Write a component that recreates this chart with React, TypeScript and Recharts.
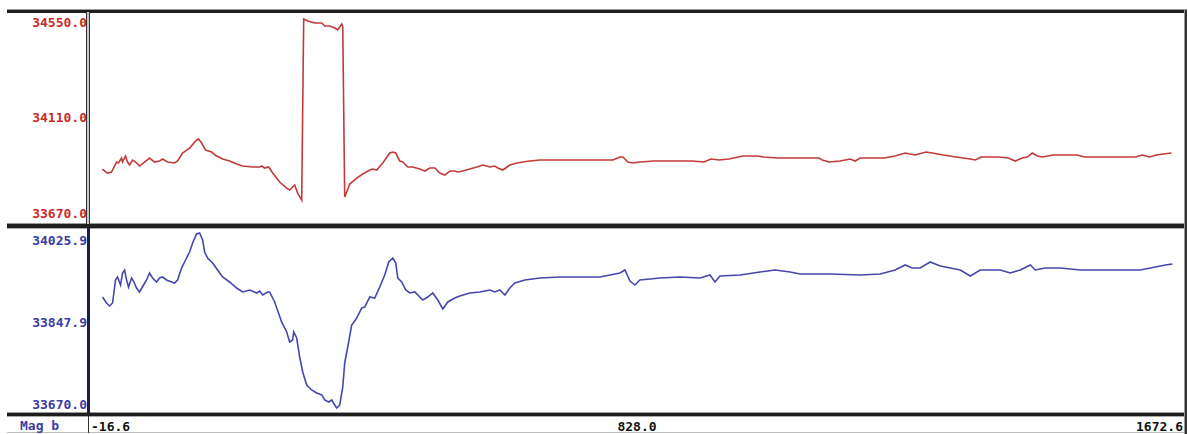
import { Line, LineChart, XAxis, YAxis } from 'recharts'

// x axis (shared by both panels)
const xTicks = [-16.6, 828.0, 1672.6]

// upper panel: Mag
const magTicks = [33670.0, 34110.0, 34550.0]
const magPos = [
  3.8, 11.9, 18.1, 25.8, 28.9, 33.5, 35.1, 39.7, 42.8, 45.9,
  50.5, 55.1, 61.3, 69.0, 76.7, 84.4, 92.1, 96.8, 104.5, 115.3,
  119.9, 127.6, 138.4, 149.2, 152.3, 156.9, 163.1, 172.3, 180.0, 189.3,
  200.1, 210.9, 220.2, 235.6, 246.4, 249.5, 254.1, 260.3, 266.5, 277.3,
  288.1, 292.7, 297.3, 300.4, 305.0, 311.2, 314.3, 320.5, 331.3, 342.1,
  346.7, 354.4, 362.2, 366.8, 372.9, 374.5, 377.5, 385.3, 396.1, 405.3,
  416.1, 420.8, 426.9, 436.2, 447.0, 451.6, 456.2, 462.4, 467.0, 474.7,
  482.4, 493.2, 500.9, 508.6, 516.4, 524.1, 531.8, 539.5, 547.2, 551.8,
  559.5, 570.3, 581.1, 590.4, 601.2, 608.9, 613.5, 621.2, 632.0, 642.8,
  652.1, 662.9, 678.3, 790.9, 801.7, 806.3, 814.0, 821.7, 832.5, 854.1,
  912.7, 931.2, 942.0, 954.3, 969.8, 991.4, 1013.0, 1023.8, 1045.4, 1108.6,
  1113.3, 1124.1, 1141.0, 1156.5, 1164.2, 1171.9, 1208.9, 1225.9, 1241.3, 1256.7,
  1273.7, 1283.0, 1299.9, 1320.0, 1341.6, 1349.3, 1358.6, 1367.8, 1384.8, 1400.2,
  1411.0, 1421.8, 1429.5, 1437.2, 1445.0, 1452.7, 1469.6, 1506.7, 1517.5, 1596.1,
  1606.9, 1617.7, 1628.5, 1639.3, 1651.7,
]
const magVal = [
  33872.8, 33854.3, 33858.9, 33905.0, 33900.4, 33923.4, 33905.0, 33932.7, 33905.0, 33891.2,
  33914.2, 33905.0, 33886.6, 33905.0, 33923.4, 33905.0, 33909.6, 33918.8, 33905.0, 33900.4,
  33909.6, 33946.5, 33969.5, 34006.4, 34011.0, 33992.6, 33960.3, 33951.1, 33932.7, 33918.8,
  33909.6, 33895.8, 33886.6, 33882.0, 33882.0, 33886.6, 33877.4, 33882.0, 33854.3, 33812.9,
  33785.2, 33776.0, 33789.8, 33799.0, 33762.2, 33730.0, 34563.8, 34554.6, 34545.4, 34545.4,
  34531.6, 34531.6, 34522.4, 34513.1, 34540.8, 34527.0, 33743.8, 33803.7, 33831.3, 33849.7,
  33868.2, 33872.8, 33868.2, 33900.4, 33946.5, 33951.1, 33946.5, 33909.6, 33905.0, 33882.0,
  33882.0, 33872.8, 33863.5, 33877.4, 33877.4, 33854.3, 33845.1, 33863.5, 33863.5, 33858.9,
  33863.5, 33872.8, 33882.0, 33891.2, 33882.0, 33886.6, 33877.4, 33868.2, 33891.2, 33900.4,
  33905.0, 33909.6, 33914.2, 33914.2, 33928.1, 33928.1, 33905.0, 33900.4, 33905.0, 33909.6,
  33909.6, 33905.0, 33918.8, 33914.2, 33918.8, 33932.7, 33932.7, 33928.1, 33923.4, 33923.4,
  33914.2, 33905.0, 33909.6, 33918.8, 33909.6, 33923.4, 33923.4, 33932.7, 33946.5, 33937.3,
  33951.1, 33946.5, 33937.3, 33928.1, 33918.8, 33914.2, 33928.1, 33928.1, 33928.1, 33923.4,
  33909.6, 33923.4, 33928.1, 33946.5, 33932.7, 33928.1, 33937.3, 33937.3, 33928.1, 33928.1,
  33937.3, 33928.1, 33937.3, 33941.9, 33946.5,
]

// lower panel: Mag b
const magBTicks = [33670.0, 33847.9, 34025.9]
const magBPos = [
  4.2, 10.4, 15.0, 19.7, 24.3, 27.4, 32.0, 35.1, 38.2, 41.3,
  44.3, 49.0, 52.0, 56.7, 61.3, 67.5, 72.1, 76.7, 81.3, 87.5,
  92.1, 96.8, 102.9, 110.7, 115.3, 119.9, 126.1, 130.7, 138.4, 143.1,
  149.2, 153.9, 158.5, 161.6, 166.2, 173.9, 181.6, 189.3, 200.1, 210.9,
  220.2, 231.0, 241.8, 246.4, 251.0, 258.8, 261.8, 269.5, 280.3, 288.1,
  292.7, 297.3, 298.9, 303.5, 308.1, 312.8, 318.9, 326.6, 334.3, 342.1,
  346.7, 352.9, 357.5, 362.2, 365.2, 369.9, 374.5, 377.5, 382.2, 388.3,
  396.1, 403.8, 408.4, 416.1, 423.8, 431.5, 439.2, 445.4, 451.6, 456.2,
  459.3, 465.4, 471.6, 477.8, 485.5, 497.8, 505.5, 513.2, 521.0, 528.7,
  536.4, 547.2, 554.9, 570.3, 585.8, 601.2, 608.9, 616.6, 624.3, 632.0,
  639.7, 655.2, 678.3, 709.2, 770.9, 801.7, 809.4, 817.1, 824.8, 832.5,
  863.4, 894.2, 925.1, 940.5, 948.2, 955.9, 986.8, 1017.6, 1040.8, 1063.9,
  1079.3, 1125.6, 1171.9, 1202.8, 1225.9, 1241.3, 1252.1, 1264.4, 1279.9, 1295.3,
  1326.2, 1341.6, 1357.0, 1387.9, 1403.3, 1418.7, 1434.2, 1441.9, 1457.3, 1480.5,
  1511.3, 1573.0, 1603.9, 1619.3, 1642.4, 1653.2,
]
const magBVal = [
  33902.2, 33889.2, 33882.7, 33889.2, 33939.1, 33945.6, 33928.2, 33954.3, 33960.8, 33939.1,
  33923.9, 33943.4, 33936.9, 33921.7, 33913.1, 33928.2, 33939.1, 33954.3, 33943.4, 33934.8,
  33943.4, 33945.6, 33939.1, 33934.8, 33932.6, 33939.1, 33965.1, 33978.2, 33999.9, 34019.4,
  34038.9, 34041.1, 34025.9, 33999.9, 33986.8, 33976.0, 33960.8, 33945.6, 33934.8, 33921.7,
  33913.1, 33917.4, 33910.9, 33915.2, 33906.5, 33913.1, 33913.1, 33891.4, 33848.0, 33826.3,
  33804.6, 33808.9, 33826.3, 33813.2, 33772.0, 33739.5, 33711.3, 33700.4, 33693.9, 33689.6,
  33678.7, 33674.4, 33678.7, 33667.9, 33661.4, 33667.9, 33706.9, 33759.0, 33793.7, 33841.5,
  33856.6, 33878.3, 33880.5, 33902.2, 33900.0, 33923.9, 33949.9, 33978.2, 33986.8, 33976.0,
  33943.4, 33934.8, 33917.4, 33910.9, 33913.1, 33895.7, 33902.2, 33910.9, 33895.7, 33876.2,
  33891.4, 33900.0, 33904.4, 33910.9, 33913.1, 33917.4, 33913.1, 33917.4, 33906.5, 33921.7,
  33932.6, 33939.1, 33943.4, 33945.6, 33945.6, 33954.3, 33960.8, 33936.9, 33928.2, 33939.1,
  33943.4, 33945.6, 33943.4, 33949.9, 33934.8, 33947.8, 33949.9, 33956.5, 33960.8, 33956.5,
  33952.1, 33952.1, 33949.9, 33952.1, 33960.8, 33971.7, 33965.1, 33965.1, 33978.2, 33969.5,
  33960.8, 33947.8, 33960.8, 33960.8, 33954.3, 33960.8, 33971.7, 33960.8, 33965.1, 33965.1,
  33960.8, 33960.8, 33960.8, 33965.1, 33971.7, 33973.8,
]

const magData = magPos.map((x, i) => ({ x, v: magVal[i] }))
const magBData = magBPos.map((x, i) => ({ x, v: magBVal[i] }))

const FONT = '"DejaVu Sans Mono", monospace'
const RED = '#c23a3a'
const BLUE = '#4646ae'

function valueTick(color: string) {
  return (p: any) => (
    <text
      x={87}
      y={p.y}
      dy="0.36em"
      textAnchor="end"
      fill={color}
      fontFamily={FONT}
      fontWeight="bold"
      fontSize={13}
    >
      {Number(p.payload.value).toFixed(1)}
    </text>
  )
}

function XTick(p: any) {
  const i = p.index
  const anchor = i === 0 ? 'start' : i === xTicks.length - 1 ? 'end' : 'middle'
  const dx = i === 0 ? 2 : i === xTicks.length - 1 ? -2 : 0
  return (
    <text
      x={p.x + dx}
      y={200}
      dy="0.36em"
      textAnchor={anchor}
      fill="#111"
      fontFamily={FONT}
      fontWeight="bold"
      fontSize={13}
    >
      {Number(p.payload.value).toFixed(1)}
    </text>
  )
}

const box = (style: any) => <div style={{ position: 'absolute', ...style }} />

export default function App() {
  return (
    <div style={{ position: 'absolute', left: 0, top: 0, width: 1188, height: 434, background: '#fff', overflow: 'hidden' }}>
      <div style={{ position: 'absolute', left: 0, top: 0 }}>
        <LineChart width={1188} height={226} data={magData} margin={{ top: 12, right: 3, left: 0, bottom: 1 }}>
          <XAxis dataKey="x" type="number" domain={[-16.6, 1672.6]} allowDataOverflow hide />
          <YAxis
            type="number"
            domain={[33615, 34596]}
            ticks={magTicks}
            interval={0}
            width={89}
            axisLine={false}
            tickLine={false}
            allowDataOverflow
            tick={valueTick('#cc2a2a')}
          />
          <Line dataKey="v" type="linear" stroke={RED} strokeWidth={1.6} dot={false} isAnimationActive={false} />
        </LineChart>
      </div>
      <div style={{ position: 'absolute', left: 0, top: 226 }}>
        <LineChart width={1188} height={208} data={magBData} margin={{ top: 3, right: 3, left: 0, bottom: 0 }}>
          <XAxis
            dataKey="x"
            type="number"
            domain={[-16.6, 1672.6]}
            ticks={xTicks}
            interval={0}
            allowDataOverflow
            height={22}
            axisLine={false}
            tickLine={false}
            tick={XTick}
          />
          <YAxis
            type="number"
            domain={[33652.6, 34049.8]}
            ticks={magBTicks}
            interval={0}
            width={89}
            axisLine={false}
            tickLine={false}
            allowDataOverflow
            tick={valueTick('#3c3ca8')}
          />
          <Line dataKey="v" type="linear" stroke={BLUE} strokeWidth={1.6} dot={false} isAnimationActive={false} />
        </LineChart>
      </div>

      {/* frame */}
      {box({ left: 7, top: 9, width: 1180, height: 1, background: '#9a9a9a' })}
      {box({ left: 7, top: 10, width: 1180, height: 3, background: '#1e1e1e' })}
      {box({ left: 7, top: 223, width: 1180, height: 1, background: '#9a9a9a' })}
      {box({ left: 7, top: 224, width: 1180, height: 4, background: '#1e1e1e' })}
      {box({ left: 7, top: 228, width: 1180, height: 1, background: '#aaa' })}
      {box({ left: 7, top: 412, width: 1180, height: 1, background: '#9a9a9a' })}
      {box({ left: 7, top: 413, width: 1180, height: 3, background: '#1e1e1e' })}
      {box({ left: 7, top: 416, width: 1180, height: 1, background: '#aaa' })}
      {box({ left: 7, top: 432, width: 1180, height: 1, background: '#bbb' })}
      {box({ left: 86, top: 12, width: 2, height: 212, background: '#c8c8c8', borderLeft: '1px solid #333', borderRight: '1px solid #333' })}
      {box({ left: 87, top: 228, width: 3, height: 185, background: '#1c1c4a' })}
      {box({ left: 88, top: 416, width: 1, height: 17, background: '#333' })}
      {box({ left: 1184, top: 10, width: 1, height: 424, background: '#999' })}
      {box({ left: 1185, top: 10, width: 2, height: 424, background: '#333' })}
      <div
        style={{
          position: 'absolute',
          left: 20,
          top: 418,
          fontFamily: FONT,
          fontWeight: 'bold',
          fontSize: 13,
          lineHeight: '16px',
          color: '#3c3ca8',
        }}
      >
        Mag b
      </div>
    </div>
  )
}
